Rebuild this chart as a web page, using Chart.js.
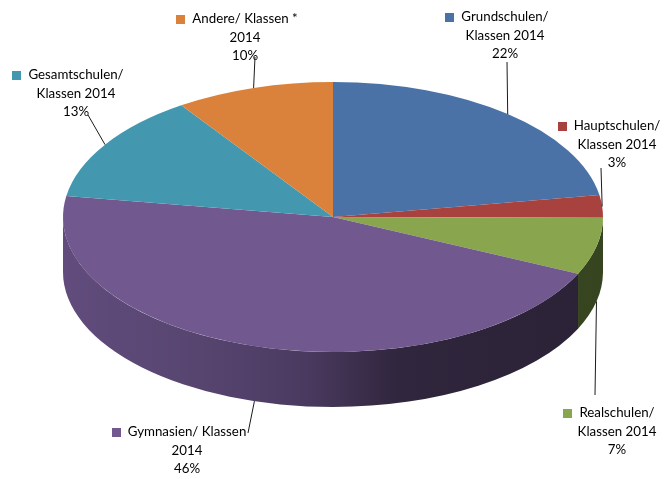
<!DOCTYPE html>
<html><head><meta charset="utf-8">
<script src="https://cdn.jsdelivr.net/npm/chart.js@4/dist/chart.umd.min.js"></script>
<style>html,body{margin:0;padding:0;background:#fff;overflow:hidden}#wrap{width:670px;height:479px}</style>
</head><body><div id="wrap"><canvas id="c" width="670" height="479"></canvas></div>
<script>
// ---- data ----
const categories = ["Grundschulen/ Klassen 2014", "Hauptschulen/ Klassen 2014", "Realschulen/ Klassen 2014", "Gymnasien/ Klassen 2014", "Gesamtschulen/ Klassen 2014", "Andere/ Klassen * 2014"];
const labelLines = [["Grundschulen/", "Klassen 2014"], ["Hauptschulen/", "Klassen 2014"], ["Realschulen/", "Klassen 2014"], ["Gymnasien/ Klassen", "2014"], ["Gesamtschulen/", "Klassen 2014"], ["Andere/ Klassen *", "2014"]];
const shares = [22.4, 2.7, 6.8, 45.6, 13.0, 9.5];

// ---- styles ----
const topColors = ["#4A72A7", "#A8423F", "#89A54E", "#71588F", "#4398AF", "#DA823B"];
const sideStops = [
  [["#2c4466", 0], ["#1e2f47", 1]],
  [["#6a2725", 0], ["#4a1b1a", 1]],
  [["#46572a", 0], ["#36441f", 1]],
  [["#614C7D", 0], ["#574570", 0.25], ["#4a3a60", 0.45], ["#30263d", 0.62], ["#2b2236", 1]],
  [["#2a6070", 0], ["#1d4450", 1]],
  [["#8a5226", 0], ["#603a1a", 1]]
];
const RX = 270, RY = 135, DEPTH = 55;
const labelPos = [[505, 17], [617, 126], [617, 413], [187, 432], [76, 75], [245, 19]];
const leaderFrom = [[507, 62], [601, 168], [595, 395], [248, 433], [88, 115], [255, 57]];
const FONT = '13.3px Lato, "Open Sans", sans-serif';
const LINE_H = 18.5;

const pie3d = {
  id: 'pie3d',
  beforeDatasetsDraw(chart) {
    const ctx = chart.ctx;
    const arcs = chart.getDatasetMeta(0).data;
    const cx = arcs[0].x, cy = arcs[0].y, r = arcs[0].outerRadius;
    arcs.forEach((arc, i) => {
      const s = Math.max(arc.startAngle, 0), e = Math.min(arc.endAngle, Math.PI);
      if (e <= s) return;
      ctx.save();
      ctx.beginPath();
      ctx.ellipse(cx, cy, RX, RY, 0, s, e, false);
      ctx.ellipse(cx, cy + DEPTH, RX, RY, 0, e, s, true);
      ctx.closePath();
      const g = ctx.createLinearGradient(cx - RX, 0, cx + RX, 0);
      sideStops[i].forEach(([c, p]) => g.addColorStop(p, c));
      ctx.fillStyle = g;
      ctx.fill();
      ctx.restore();
    });
    ctx.save();
    ctx.translate(cx, cy);
    ctx.scale(RX / r, RY / r);
    ctx.translate(-cx, -cy);
  },
  afterDatasetsDraw(chart) {
    const ctx = chart.ctx;
    ctx.restore();
    const arcs = chart.getDatasetMeta(0).data;
    const cx = arcs[0].x, cy = arcs[0].y;
    const total = shares.reduce((a, b) => a + b, 0);
    ctx.save();
    ctx.strokeStyle = '#1a1a1a';
    ctx.lineWidth = 1;
    arcs.forEach((arc, i) => {
      const m = (arc.startAngle + arc.endAngle) / 2;
      const sn = Math.sin(m);
      const px = cx + RX * Math.cos(m);
      const py = cy + RY * sn + (sn > 0 ? DEPTH : 0);
      ctx.beginPath();
      ctx.moveTo(leaderFrom[i][0], leaderFrom[i][1]);
      ctx.lineTo(px, py);
      ctx.stroke();
    });
    ctx.font = FONT;
    ctx.textBaseline = 'middle';
    ctx.textAlign = 'center';
    ctx.fillStyle = '#000';
    labelLines.forEach((lines, i) => {
      const [x, y] = labelPos[i];
      const all = lines.concat([Math.round(shares[i] / total * 100) + '%']);
      all.forEach((t, k) => {
        ctx.fillText(t, x, y + k * LINE_H);
      });
      const w = ctx.measureText(all[0]).width;
      ctx.fillStyle = topColors[i];
      ctx.fillRect(Math.round(x - w / 2 - 7 - 9), Math.round(y - 4.5), 9, 9);
      ctx.fillStyle = '#000';
    });
    ctx.restore();
  }
};

new Chart(document.getElementById('c'), {
  type: 'pie',
  data: {
    labels: categories,
    datasets: [{ data: shares, backgroundColor: topColors, borderWidth: 0, hoverOffset: 0 }]
  },
  options: {
    responsive: false,
    animation: false,
    layout: { padding: { left: 0, right: 4, top: 0, bottom: 45 } },
    plugins: { legend: { display: false }, tooltip: { enabled: false } },
    events: []
  },
  plugins: [pie3d]
});
</script>
</body></html>
